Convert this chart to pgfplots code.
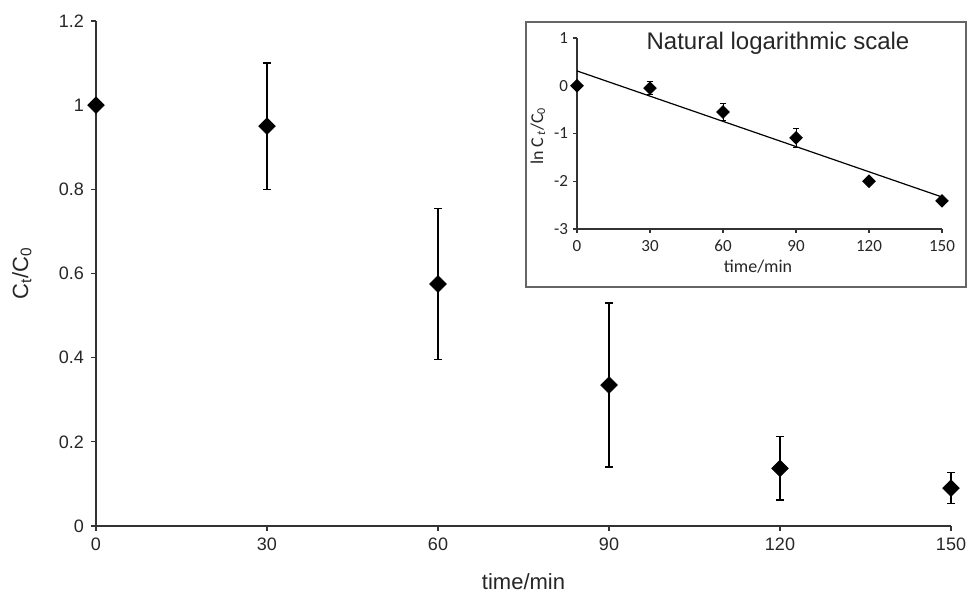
\documentclass[border=0pt]{standalone}
\usepackage{pgfplots}
\pgfplotsset{compat=1.18}
\usepackage{fontspec}
\setmainfont{Liberation Sans}
\newfontfamily\calfont{Carlito}
\begin{document}
\begin{tikzpicture}[x=1pt,y=1pt]
\useasboundingbox (-48pt,-33pt) rectangle (436pt,263pt);
\begin{axis}[
  at={(0pt,0pt)}, anchor=south west,
  scale only axis, width=427.5pt, height=252.5pt,
  xmin=0, xmax=150, ymin=0, ymax=1.2,
  axis x line=bottom, axis y line=left,
  axis line style={-, line width=0.6pt, black!80},
  xtick={0,30,60,90,120,150},
  ytick={0,0.2,0.4,0.6,0.8,1,1.2},
  yticklabels={0,0.2,0.4,0.6,0.8,1,1.2},
  tick align=outside, major tick length=2.5pt,
  tick style={line width=0.6pt, black!80},
  /pgf/number format/assume math mode=true,
  ticklabel style={font=\fontsize{9}{11}\selectfont, color=black!85},
  xlabel={time/min}, ylabel={C\textsubscript{t}/C\textsubscript{0}},
  label style={font=\fontsize{11}{13}\selectfont, color=black!85},
  xlabel style={at={(axis description cs:0.5,-0.111)}, anchor=center},
  ylabel style={at={(axis description cs:-0.0866,0.5)}, anchor=center},
  clip=false,
]
\addplot[only marks, mark=square*, mark size=2.9pt, mark options={rotate=45, fill=black},
  error bars/.cd, y dir=both, y explicit,
  error bar style={line width=0.6pt},
  error mark options={rotate=90, mark size=1.8pt, line width=0.6pt}]
  table[x=t, y=c, y error=e] {
t c e
0 1 0
30 0.95 0.15
60 0.575 0.18
90 0.335 0.195
120 0.137 0.075
150 0.09 0.037
};
\end{axis}
\draw[fill=white, draw=black!60, line width=0.6pt] (215pt,119.5pt) rectangle (435pt,252pt);
\node[font=\fontsize{12}{14}\selectfont, color=black!85] at (341pt,241.5pt) {Natural logarithmic scale};
\begin{axis}[
  at={(240.5pt,148.5pt)}, anchor=south west,
  scale only axis, width=182.5pt, height=95.5pt,
  xmin=0, xmax=150, ymin=-3, ymax=1,
  axis x line=bottom, axis y line=left,
  axis line style={-, line width=0.6pt, black!80},
  xtick={0,30,60,90,120,150},
  ytick={-3,-2,-1,0,1},
  yticklabels={-3,-2,-1,0,1},
  tick align=outside, major tick length=2pt,
  tick style={line width=0.6pt, black!80},
  /pgf/number format/assume math mode=true,
  ticklabel style={font=\calfont\fontsize{8.5}{10}\selectfont, color=black!85},
  yticklabel style={xshift=1pt},
  xlabel={time/min}, ylabel={ln C\textsubscript{\,\itshape t}/C\textsubscript{0}},
  label style={font=\calfont\fontsize{9}{11}\selectfont, color=black!85},
  xlabel style={at={(axis description cs:0.496,-0.199)}, anchor=center},
  ylabel style={at={(axis description cs:-0.107,0.487)}, anchor=center},
  clip=false,
]
\addplot[black, line width=0.6pt] coordinates {(0,0.31) (150,-2.33)};
\addplot[only marks, mark=square*, mark size=2.2pt, mark options={rotate=45, fill=black},
  error bars/.cd, y dir=both, y explicit,
  error bar style={line width=0.5pt},
  error mark options={rotate=90, mark size=1.3pt, line width=0.5pt}]
  table[x=t, y=c, y error=e] {
t c e
0 0 0
30 -0.05 0.14
60 -0.55 0.17
90 -1.09 0.2
120 -2.0 0
150 -2.41 0
};
\end{axis}
\end{tikzpicture}
\end{document}
